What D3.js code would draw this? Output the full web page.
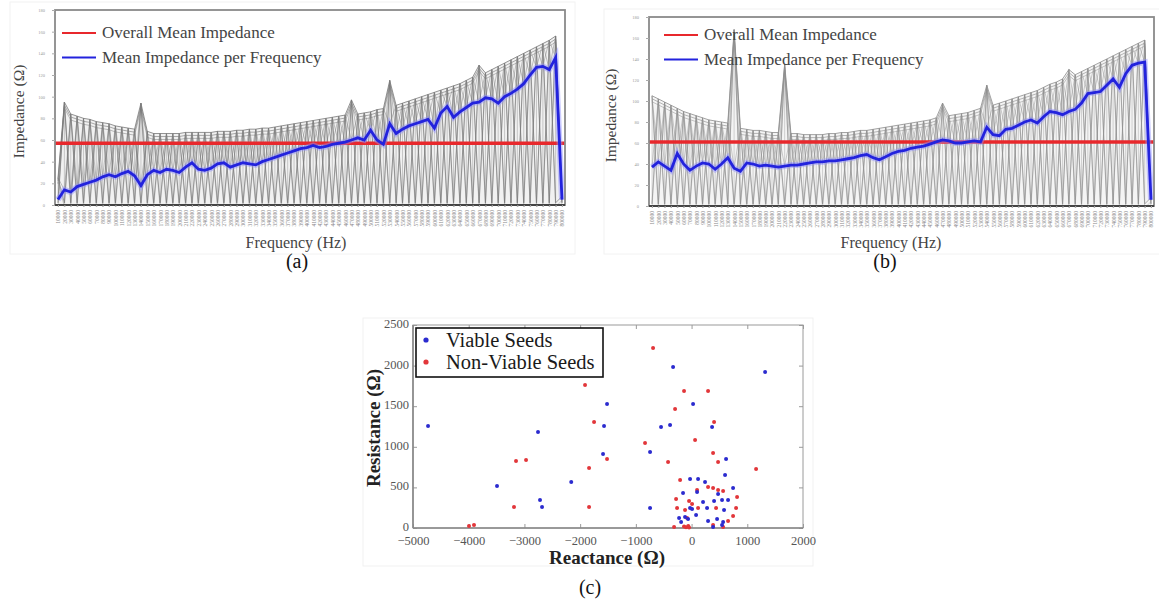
<!DOCTYPE html>
<html lang="en">
    <head>
        <meta charset="UTF-8" />
        <title>impedance figure</title>
        <script src="https://cdn.jsdelivr.net/npm/d3@7"></script>
    </head>
    <body>
        <div id="container"></div>
    </body>
    <style>
        body {
            margin: 0;
            background: #fff;
        }
        text {
            font-family: 'Liberation Serif', 'Times New Roman', serif;
        }
    </style>
    <script>
        // ---- data ----
        const frequencies = [
            10000, 20000, 30000, 40000, 50000, 60000, 70000, 80000, 90000, 100000,
            110000, 120000, 130000, 140000, 150000, 160000, 170000, 180000, 190000, 200000,
            210000, 220000, 230000, 240000, 250000, 260000, 270000, 280000, 290000, 300000,
            310000, 320000, 330000, 340000, 350000, 360000, 370000, 380000, 390000, 400000,
            410000, 420000, 430000, 440000, 450000, 460000, 470000, 480000, 490000, 500000,
            510000, 520000, 530000, 540000, 550000, 560000, 570000, 580000, 590000, 600000,
            610000, 620000, 630000, 640000, 650000, 660000, 670000, 680000, 690000, 700000,
            710000, 720000, 730000, 740000, 750000, 760000, 770000, 780000, 790000, 800000,
        ]
        const impedanceTicks = [0, 20, 40, 60, 80, 100, 120, 140, 160, 180]

        // panel (a)
        const meanPerFreqA = [
            5, 14, 12, 17, 19, 21, 23, 26, 28, 26, 29, 31, 27, 18, 28, 32, 30, 33, 32, 30,
            35, 39, 33, 32, 34, 38, 39, 35, 37, 39, 38, 37, 40, 42, 44, 46, 48, 50, 52, 53,
            55, 53, 54, 56, 57, 58, 60, 62, 60, 69, 60, 56, 75, 66, 70, 73, 75, 77, 79, 71,
            85, 91, 81, 86, 90, 94, 95, 99, 98, 94, 100, 103, 107, 112, 120, 127, 128, 125, 136, 5,
        ]
        const envelopeA = [
            25, 95, 84, 82, 80, 79, 77, 76, 75, 73, 72, 71, 70, 94, 68, 66, 66, 66, 66, 66,
            67, 67, 67, 67, 67, 68, 68, 68, 69, 69, 70, 70, 71, 71, 72, 73, 74, 75, 76, 77,
            78, 79, 80, 81, 82, 83, 97, 84, 85, 86, 88, 89, 115, 92, 94, 96, 98, 100, 102, 104,
            106, 108, 110, 112, 115, 118, 129, 122, 125, 128, 131, 134, 137, 140, 143, 146, 149, 152, 156, 8,
        ]
        const overallMeanA = 57

        // panel (b)
        const meanPerFreqB = [
            37, 42, 38, 34, 50, 40, 34, 38, 41, 40, 35, 40, 46, 36, 33, 41, 40, 38, 39, 38,
            37, 38, 39, 39, 40, 41, 42, 42, 43, 43, 44, 45, 46, 48, 49, 46, 44, 47, 50, 52,
            53, 55, 56, 57, 59, 61, 63, 62, 60, 60, 61, 62, 61, 75, 68, 67, 73, 74, 77, 80,
            82, 79, 85, 90, 89, 87, 90, 92, 98, 107, 108, 109, 115, 121, 113, 126, 134, 136, 137, 6,
        ]
        const envelopeB = [
            105, 102, 99, 96, 93, 90, 88, 86, 84, 82, 81, 80, 79, 168, 74, 73, 72, 72, 71, 70,
            70, 135, 69, 69, 68, 68, 68, 68, 69, 69, 70, 70, 71, 72, 72, 73, 74, 75, 76, 77,
            78, 79, 80, 81, 82, 84, 98, 86, 87, 88, 89, 91, 93, 115, 96, 98, 100, 102, 104, 106,
            108, 110, 113, 116, 118, 121, 130, 125, 128, 131, 134, 137, 140, 143, 146, 149, 152, 155, 158, 8,
        ]
        const overallMeanB = 61
        const grayFloor = 2

        // panel (c)
        const viableReactance = [
            -4730, -2756, -3492, -2720, -2684, -2160, -332, 1320, -1517, 27, -1571, -548, -386, 368, -745,
            -1589, 619, -745, 601, -27, 117, 242, 99, 745, -153, 476, 404, 547, 655, 206, 9, -27, 278,
            583, 81, 296, 458, 566, -224, -188, -117, -63, 386, 547,
        ]
        const viableResistance = [
            1255, 1182, 517, 345, 259, 567, 1983, 1921, 1527, 1527, 1256, 1244, 1268, 1244, 936,
            911, 850, 246, 653, 603, 603, 567, 443, 493, 431, 419, 333, 345, 345, 320, 234, 246, 246,
            222, 160, 86, 111, 74, 123, 74, 135, 111, 12, 37,
        ]
        const nonViableReactance = [
            -691, -1912, -135, 296, -296, -1750, 404, -835, 63, -3151, -2971, -3187, -3995, -3905, -1517,
            -422, 386, 476, 1158, -1840, -1840, -206, 296, 99, 386, 476, 566, 817, -278, -45, 9, -260,
            -117, 117, 440, 799, 745, -81, 655, 386, -314, -135, -100, -60, -45, 566,
        ]
        const nonViableResistance = [
            2217, 1761, 1687, 1687, 1465, 1305, 1305, 1047, 1084, 825, 837, 259, 25, 37, 850,
            813, 924, 813, 727, 739, 259, 591, 505, 468, 493, 468, 456, 382, 357, 333, 296, 246,
            222, 246, 246, 246, 148, 123, 86, 37, 12, 20, 10, 25, 5, 12,
        ]
        const reactanceTicks = [-5000, -4000, -3000, -2000, -1000, 0, 1000, 2000]
        const resistanceTicks = [0, 500, 1000, 1500, 2000, 2500]

        const svg = d3.select('#container').append('svg').attr('width', 1159).attr('height', 604)
        svg.append('rect').attr('width', 1159).attr('height', 604).attr('fill', '#fff')

        const drawImpedance = (opts) => {
            const { left, right, top, bottom, mean, envelope, overallMean, grayColor } = opts
            const n = mean.length
            const x = d3.scalePoint().domain(d3.range(n)).range([left + 3, right - 3])
            const y = d3.scaleLinear().domain([0, 180]).range([bottom, top])
            const g = svg.append('g')

            // faint outer frame
            g.append('rect')
                .attr('x', left - 45)
                .attr('y', top - 8)
                .attr('width', right - left + 55)
                .attr('height', 262 - top)
                .attr('fill', 'none')
                .attr('stroke', '#f2f2f2')

            const line = d3
                .line()
                .x((d, i) => x(i))
                .y((d) => y(d))

            // light tone under the sweeps
            g.append('path')
                .attr(
                    'd',
                    d3
                        .area()
                        .x((d, i) => x(i))
                        .y0(y(0))
                        .y1((d) => y(d))(envelope)
                )
                .attr('fill', '#ededed')
                .attr('fill-opacity', opts.toneOpacity)

            // vertical stems per frequency
            g.selectAll('.stem')
                .data(envelope)
                .enter()
                .append('line')
                .attr('x1', (d, i) => x(i))
                .attr('x2', (d, i) => x(i))
                .attr('y1', y(grayFloor))
                .attr('y2', (d) => y(d))
                .attr('stroke', grayColor)
                .attr('stroke-opacity', 0.45)
                .attr('stroke-width', 0.8)

            // individual sweeps drawn as zigzags
            const zigzag = (phase, low) => envelope.map((v, i) => (i % 2 === phase ? v : low[i]))
            const floorArr = envelope.map(() => grayFloor)
            const traces = [
                { d: zigzag(0, floorArr), op: 0.8, dy: 0 },
                { d: zigzag(1, floorArr), op: 0.8, dy: 0 },
                { d: zigzag(0, mean), op: 0.5, dy: 0 },
                { d: zigzag(1, mean), op: 0.5, dy: 0 },
                { d: zigzag(0, floorArr), op: 0.4, dy: 4 },
                { d: zigzag(1, floorArr), op: 0.4, dy: 4 },
                { d: envelope, op: 0.9, dy: 0 },
                { d: envelope, op: 0.7, dy: 3 },
                { d: envelope, op: 0.55, dy: 6 },
            ]
            g.selectAll('.trace')
                .data(traces)
                .enter()
                .append('path')
                .attr('transform', (t) => `translate(0,${t.dy})`)
                .attr('d', (t) => line(t.d))
                .attr('fill', 'none')
                .attr('stroke', grayColor)
                .attr('stroke-opacity', (t) => t.op)
                .attr('stroke-width', 0.9)

            // overall mean
            g.append('line')
                .attr('x1', left)
                .attr('x2', right)
                .attr('y1', y(overallMean))
                .attr('y2', y(overallMean))
                .attr('stroke', '#e8282c')
                .attr('stroke-width', 3.4)

            // mean per frequency
            g.append('path')
                .attr('d', line(mean))
                .attr('fill', 'none')
                .attr('stroke', '#8f8fff')
                .attr('stroke-opacity', 0.45)
                .attr('stroke-width', 6)
            g.append('path')
                .attr('d', line(mean))
                .attr('fill', 'none')
                .attr('stroke', '#2323dd')
                .attr('stroke-width', 2.8)

            // frame
            g.append('rect')
                .attr('x', left)
                .attr('y', top)
                .attr('width', right - left)
                .attr('height', bottom - top)
                .attr('fill', 'none')
                .attr('stroke', '#8a8a8a')
                .attr('stroke-width', 1.8)
            g.append('line')
                .attr('x1', left)
                .attr('x2', right)
                .attr('y1', bottom)
                .attr('y2', bottom)
                .attr('stroke', '#444')
                .attr('stroke-width', 2)

            // y axis (tiny labels)
            const yAxis = g
                .append('g')
                .attr('transform', `translate(${left},0)`)
                .call(d3.axisLeft(y).tickValues(impedanceTicks).tickSize(3).tickPadding(7))
            yAxis.select('.domain').remove()
            yAxis.selectAll('line').attr('stroke', '#aaa')
            yAxis.selectAll('text').attr('fill', '#999').style('font-size', '4.5px')

            // x axis, vertical frequency labels
            const xAxis = g
                .append('g')
                .attr('transform', `translate(0,${bottom})`)
                .call(
                    d3
                        .axisBottom(x)
                        .tickSize(2)
                        .tickFormat((i) => frequencies[i])
                )
            xAxis.select('.domain').remove()
            xAxis.selectAll('line').attr('stroke', '#aaa')
            xAxis.selectAll('text')
                .attr('fill', '#888')
                .style('font-size', '5.5px')
                .attr('text-anchor', 'end')
                .attr('transform', 'rotate(-90)')
                .attr('x', -5)
                .attr('y', 0)
                .attr('dy', '0.35em')

            // legend
            const legend = [
                { label: 'Overall Mean Impedance', color: '#e8282c', dy: 0 },
                { label: 'Mean Impedance per Frequency', color: '#2323dd', dy: 24.5 },
            ]
            legend.forEach((l) => {
                g.append('line')
                    .attr('x1', opts.legendX)
                    .attr('x2', opts.legendX + 34)
                    .attr('y1', opts.legendY + l.dy)
                    .attr('y2', opts.legendY + l.dy)
                    .attr('stroke', l.color)
                    .attr('stroke-width', 2.2)
                g.append('text')
                    .attr('x', opts.legendX + 40)
                    .attr('y', opts.legendY + l.dy + 5)
                    .attr('fill', '#444')
                    .style('font-size', '17px')
                    .text(l.label)
            })

            // axis titles
            g.append('text')
                .attr('transform', `translate(${opts.yLabelX},${(top + bottom) / 2 + 4}) rotate(-90)`)
                .attr('text-anchor', 'middle')
                .attr('fill', '#444')
                .style('font-size', '15.5px')
                .text('Impedance (Ω)')
            g.append('text')
                .attr('x', opts.xLabelX)
                .attr('y', 248)
                .attr('text-anchor', 'middle')
                .attr('fill', '#444')
                .style('font-size', '16px')
                .text('Frequency (Hz)')
            g.append('text')
                .attr('x', opts.tagX)
                .attr('y', 268)
                .attr('text-anchor', 'middle')
                .attr('fill', '#111')
                .style('font-size', '20px')
                .text(opts.tag)
        }

        drawImpedance({
            left: 55, right: 565, top: 10, bottom: 205,
            mean: meanPerFreqA, envelope: envelopeA, overallMean: overallMeanA, toneOpacity: 0.8,
            grayColor: '#7a7a7a', legendX: 62, legendY: 33, yLabelX: 24, xLabelX: 296, tagX: 297, tag: '(a)',
        })
        drawImpedance({
            left: 649, right: 1154, top: 17, bottom: 206,
            mean: meanPerFreqB, envelope: envelopeB, overallMean: overallMeanB, toneOpacity: 0.6,
            grayColor: '#8e8e8e', legendX: 664, legendY: 35, yLabelX: 616, xLabelX: 891, tagX: 885, tag: '(b)',
        })

        // ---- panel (c): scatter ----
        const cx = d3.scaleLinear().domain([-5000, 2000]).range([413, 803])
        const cy = d3.scaleLinear().domain([0, 2500]).range([528, 325])
        const gc = svg.append('g')

        gc.append('rect')
            .attr('x', 363)
            .attr('y', 318)
            .attr('width', 450)
            .attr('height', 248)
            .attr('fill', 'none')
            .attr('stroke', '#f1f1f1')

        gc.append('rect')
            .attr('x', 413)
            .attr('y', 325)
            .attr('width', 390)
            .attr('height', 203)
            .attr('fill', '#fff')
            .attr('stroke', '#9a9a9a')
            .attr('stroke-width', 1)

        const styleAxis = (sel) => {
            sel.select('.domain').remove()
            sel.selectAll('line').attr('stroke', '#9a9a9a')
            sel.selectAll('text').attr('fill', '#555').style('font-size', '12.5px').style('font-family', "'Liberation Serif', serif")
        }
        gc.append('g')
            .attr('transform', 'translate(0,528)')
            .call(d3.axisBottom(cx).tickValues(reactanceTicks).tickSize(-4).tickPadding(8).tickFormat(d3.format('d')))
            .call(styleAxis)
        gc.append('g')
            .attr('transform', 'translate(413,0)')
            .call(d3.axisLeft(cy).tickValues(resistanceTicks).tickSize(-4).tickPadding(4).tickFormat(d3.format('d')))
            .call(styleAxis)
            .selectAll('text')
            .attr('dy', '0.2em')
        gc.append('g')
            .attr('transform', 'translate(0,325)')
            .call(d3.axisTop(cx).tickValues(reactanceTicks).tickSize(-4).tickFormat(''))
            .call(styleAxis)
        gc.append('g')
            .attr('transform', 'translate(803,0)')
            .call(d3.axisRight(cy).tickValues(resistanceTicks).tickSize(-4).tickFormat(''))
            .call(styleAxis)
        // bottom & left axis lines slightly darker
        gc.append('line').attr('x1', 413).attr('x2', 803).attr('y1', 528).attr('y2', 528).attr('stroke', '#888').attr('stroke-width', 1.6)
        gc.append('line').attr('x1', 413).attr('x2', 413).attr('y1', 325).attr('y2', 528).attr('stroke', '#888').attr('stroke-width', 1.6)

        const viable = viableReactance.map((v, i) => [v, viableResistance[i]])
        const nonViable = nonViableReactance.map((v, i) => [v, nonViableResistance[i]])
        gc.selectAll('.nv')
            .data(nonViable)
            .enter()
            .append('circle')
            .attr('cx', (d) => cx(d[0]))
            .attr('cy', (d) => cy(d[1]))
            .attr('r', 2)
            .attr('fill', '#e2363a')
        gc.selectAll('.v')
            .data(viable)
            .enter()
            .append('circle')
            .attr('cx', (d) => cx(d[0]))
            .attr('cy', (d) => cy(d[1]))
            .attr('r', 2)
            .attr('fill', '#2b2bcf')

        // legend
        gc.append('rect')
            .attr('x', 416)
            .attr('y', 328)
            .attr('width', 187)
            .attr('height', 49)
            .attr('fill', '#fff')
            .attr('stroke', '#111')
            .attr('stroke-width', 1.6)
        const cLegend = [
            { label: 'Viable Seeds', color: '#2b2bcf', y: 340 },
            { label: 'Non-Viable Seeds', color: '#e2363a', y: 362 },
        ]
        cLegend.forEach((l) => {
            gc.append('circle').attr('cx', 426).attr('cy', l.y).attr('r', 2.6).attr('fill', l.color)
            gc.append('text')
                .attr('x', 446)
                .attr('y', l.y + 6.5)
                .attr('fill', '#1a1a1a')
                .style('font-size', '20.5px')
                .text(l.label)
        })

        gc.append('text')
            .attr('x', 607)
            .attr('y', 564)
            .attr('text-anchor', 'middle')
            .attr('fill', '#222')
            .style('font-size', '19px')
            .style('font-weight', 'bold')
            .text('Reactance (Ω)')
        gc.append('text')
            .attr('transform', 'translate(380,428) rotate(-90)')
            .attr('text-anchor', 'middle')
            .attr('fill', '#222')
            .style('font-size', '19px')
            .style('font-weight', 'bold')
            .text('Resistance (Ω)')
        gc.append('text')
            .attr('x', 590)
            .attr('y', 594)
            .attr('text-anchor', 'middle')
            .attr('fill', '#111')
            .style('font-size', '20px')
            .text('(c)')
    </script>
</html>
